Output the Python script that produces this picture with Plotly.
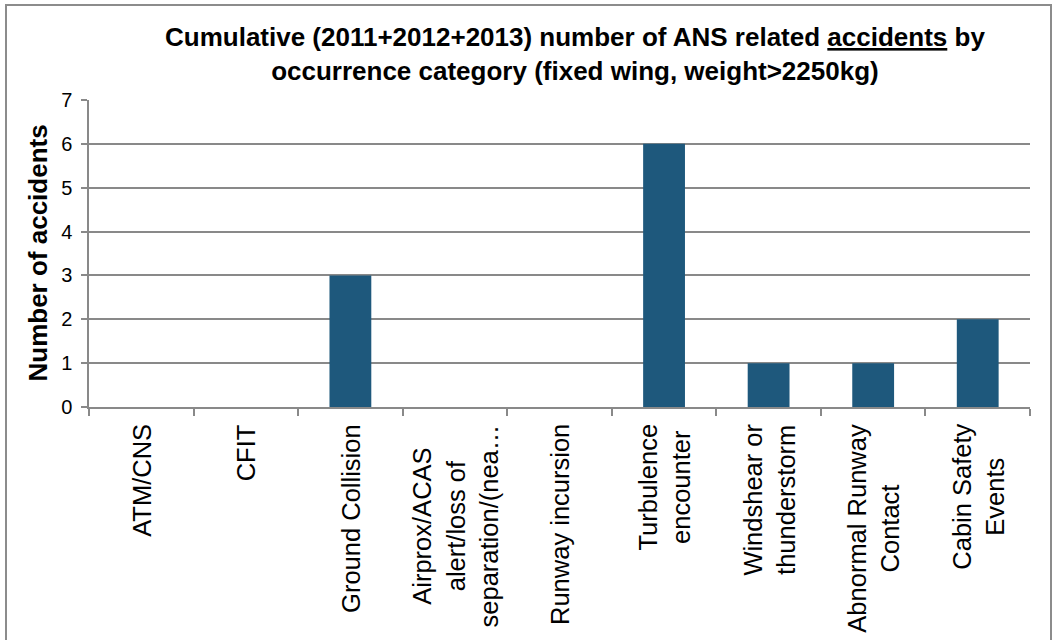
import plotly.graph_objects as go

# Occurrence categories and cumulative accident counts (2011-2013)
categories = [
    "ATM/CNS",
    "CFIT",
    "Ground Collision",
    "Airprox/ACAS alert/loss of separation/(near) collisions",
    "Runway incursion",
    "Turbulence encounter",
    "Windshear or thunderstorm",
    "Abnormal Runway Contact",
    "Cabin Safety Events",
]
tick_labels = [
    "ATM/CNS",
    "CFIT",
    "Ground Collision",
    "Airprox/ACAS<br>alert/loss of<br>separation/(nea…",
    "Runway incursion",
    "Turbulence<br>encounter",
    "Windshear or<br>thunderstorm",
    "Abnormal Runway<br>Contact",
    "Cabin Safety<br>Events",
]
accidents = [0, 0, 3, 0, 0, 6, 1, 1, 2]
y_ticks = [0, 1, 2, 3, 4, 5, 6, 7]

FONT = "Liberation Sans, Arial, sans-serif"
GRID = "#898989"
BAR = "#1E587C"

W, H = 1053, 640
ML, MR, MT, MB = 89, 23, 100, 233
PW, PH = W - ML - MR, H - MT - MB


def px_x(x):
    return (x - ML) / PW


def px_y(y):
    return (H - MB - y) / PH


fig = go.Figure(
    go.Bar(
        x=categories,
        y=accidents,
        marker=dict(color=BAR, line=dict(width=0)),
        hoverinfo="x+y",
    )
)

# Category labels, rotated and centred line by line
annotations = []
for cat, lab in zip(categories, tick_labels):
    annotations.append(dict(
        x=cat, xref="x", y=0, yref="paper",
        text=lab, textangle=-90, showarrow=False,
        xanchor="center", yanchor="top", align="center",
        yshift=-15,
        font=dict(family=FONT, size=25.5, color="#000000"),
    ))

# Chart title
annotations.append(dict(
    x=px_x(575), xref="paper", y=px_y(20), yref="paper",
    text="<b>Cumulative (2011+2012+2013) number of ANS related <u>accidents</u> by<br>"
         "occurrence category (fixed wing, weight>2250kg)</b>",
    showarrow=False, xanchor="center", yanchor="top", align="center",
    font=dict(family=FONT, size=26, color="#000000"),
))

# Y-axis title
annotations.append(dict(
    x=px_x(37), xref="paper", y=0.5, yref="paper",
    text="<b>Number of accidents</b>", textangle=-90, showarrow=False,
    xanchor="center", yanchor="middle",
    font=dict(family=FONT, size=26, color="#000000"),
))

fig.update_layout(
    width=W, height=H,
    margin=dict(l=ML, r=MR, t=MT, b=MB),
    paper_bgcolor="white", plot_bgcolor="white",
    showlegend=False,
    bargap=0.6,
    annotations=annotations,
    shapes=[dict(
        type="rect", xref="paper", yref="paper",
        x0=px_x(6), x1=px_x(1051), y0=px_y(660), y1=px_y(5),
        line=dict(color="#8C8C8C", width=2), fillcolor="rgba(0,0,0,0)",
        layer="below",
    )],
    xaxis=dict(
        type="category", range=[-0.5, len(categories) - 0.5],
        showticklabels=False, tickson="boundaries",
        ticks="outside", ticklen=7, tickcolor=GRID, tickwidth=1.5,
        showline=True, linecolor=GRID, linewidth=1.5,
        showgrid=False, zeroline=False, fixedrange=True,
    ),
    yaxis=dict(
        range=[0, 7], tickvals=y_ticks,
        ticks="outside", ticklen=6, tickcolor=GRID, tickwidth=1.5,
        showline=True, linecolor=GRID, linewidth=1.5,
        showgrid=True, gridcolor=GRID, gridwidth=1.5,
        zeroline=False, ticklabelstandoff=5,
        tickfont=dict(family=FONT, size=20, color="#000000"),
        fixedrange=True,
    ),
)

fig.write_html("out.html")
